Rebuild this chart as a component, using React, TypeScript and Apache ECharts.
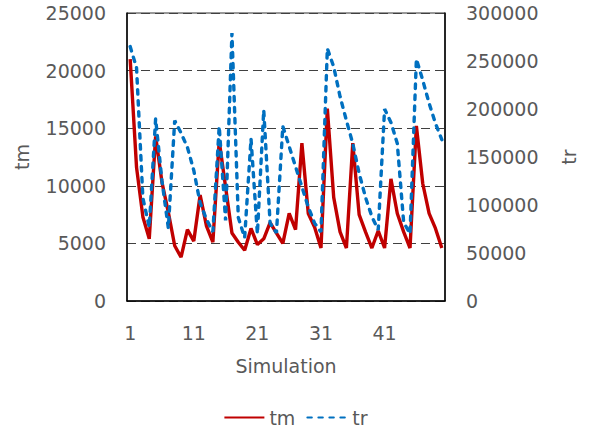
import React, { useEffect, useRef } from "react";
import * as echarts from "echarts";

const categories: string[] = Array.from({ length: 50 }, (_, i) => String(i + 1));

const tmValues: number[] = [
  21000, 11600, 7300, 5400, 14300, 10300, 7700, 4800, 3800, 6200,
  5200, 9200, 6500, 5100, 13900, 9900, 5900, 5100, 4400, 6300,
  4900, 5400, 6800, 5900, 5000, 7600, 6200, 13700, 7600, 6400,
  4600, 16700, 9000, 6000, 4600, 13700, 7500, 6000, 4600, 6100,
  4600, 10600, 7600, 6000, 4600, 15200, 10200, 7600, 6300, 4600,
];

const trValues: number[] = [
  265000, 243000, 107000, 77000, 190000, 125000, 76000, 188000, 175000, 160000,
  136000, 102000, 85000, 72000, 182000, 84000, 279000, 87000, 66000, 169000,
  70000, 199000, 81000, 71000, 182000, 161000, 140000, 119000, 98000, 81000,
  72000, 263000, 244000, 213000, 188000, 164000, 133000, 108000, 88000, 74000,
  200000, 186000, 164000, 82000, 70000, 252000, 230000, 206000, 185000, 168000,
];

const seriesNames = ["tm", "tr"];

export default function App() {
  const ref = useRef<HTMLDivElement>(null);

  useEffect(() => {
    if (!ref.current) return;
    const chart = echarts.init(ref.current, null, { renderer: "svg" });
    const font = "'DejaVu Sans', Verdana, sans-serif";
    const textColor = "#595959";
    const fs = 19;
    const plain = (v: number) => String(v);
    chart.setOption({
      animation: false,
      textStyle: { fontFamily: font },
      grid: {
        left: 127,
        right: 146,
        top: 13,
        bottom: 135,
        show: true,
        borderColor: "#333",
        borderWidth: 1,
      },
      legend: {
        data: seriesNames,
        bottom: 4,
        left: "center",
        itemWidth: 40,
        itemHeight: 14,
        itemGap: 11,
        itemStyle: { color: "transparent", borderWidth: 0, opacity: 0 },
        textStyle: { color: textColor, fontSize: fs, fontFamily: font },
      },
      xAxis: {
        type: "category",
        data: categories,
        boundaryGap: true,
        name: "Simulation",
        nameLocation: "middle",
        nameGap: 55,
        nameTextStyle: { color: textColor, fontSize: 19, fontFamily: font },
        axisLine: { lineStyle: { color: "#000", width: 1.5 } },
        axisTick: { show: false },
        axisLabel: {
          interval: 9,
          color: textColor,
          fontSize: fs,
          margin: 22,
          fontFamily: font,
        },
        splitLine: { show: false },
      },
      yAxis: [
        {
          type: "value",
          min: 0,
          max: 25000,
          interval: 5000,
          name: "tm",
          nameLocation: "middle",
          nameRotate: 90,
          nameGap: 96,
          nameTextStyle: { color: textColor, fontSize: 19, fontFamily: font },
          axisLine: { show: true, lineStyle: { color: "#000", width: 1.5 } },
          axisTick: { show: false },
          axisLabel: { color: textColor, fontSize: fs, margin: 21, fontFamily: font, formatter: plain },
          splitLine: {
            show: true,
            lineStyle: { color: "#404040", type: [9, 5], width: 1.2 },
          },
        },
        {
          type: "value",
          min: 0,
          max: 300000,
          interval: 50000,
          name: "tr",
          nameLocation: "middle",
          nameRotate: 90,
          nameGap: 114,
          nameTextStyle: { color: textColor, fontSize: 19, fontFamily: font },
          axisLine: { show: true, lineStyle: { color: "#000", width: 1.5 } },
          axisTick: { show: false },
          axisLabel: { color: textColor, fontSize: fs, margin: 21, fontFamily: font, formatter: plain },
          splitLine: { show: false },
        },
      ],
      series: [
        {
          name: seriesNames[0],
          type: "line",
          yAxisIndex: 0,
          data: tmValues,
          symbol: "none",
          lineStyle: { color: "#C00000", width: 3.4 },
          itemStyle: { color: "#C00000" },
        },
        {
          name: seriesNames[1],
          type: "line",
          yAxisIndex: 1,
          data: trValues,
          symbol: "none",
          lineStyle: { color: "#0070C0", width: 3.4, type: [4.5, 6.5], cap: "round" },
          itemStyle: { color: "#0070C0" },
        },
      ],
    });
    return () => chart.dispose();
  }, []);

  return (
    <div
      ref={ref}
      style={{ position: "fixed", left: 0, top: 0, width: 591, height: 436, background: "#fff" }}
    />
  );
}
